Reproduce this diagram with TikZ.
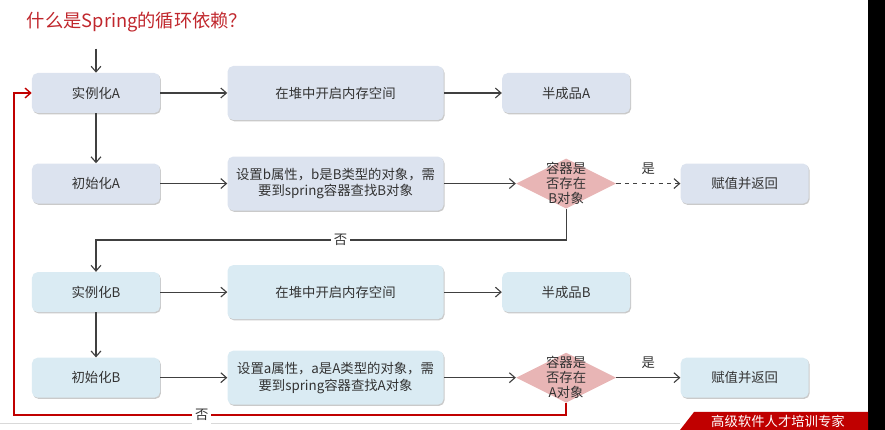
\documentclass[tikz,border=0pt]{standalone}
\usepackage{fontspec}
\setmainfont{Noto Sans CJK SC}
\usetikzlibrary{arrows,arrows.meta,positioning,shapes.geometric,shadows}

\definecolor{titlered}{HTML}{C0272D}
\definecolor{boxA}{HTML}{DCE3EF}
\definecolor{boxB}{HTML}{DAEBF3}
\definecolor{askfill}{HTML}{E8B5B5}
\definecolor{linegray}{HTML}{404040}
\definecolor{backred}{HTML}{C00000}

\begin{document}
\begin{tikzpicture}[font=\fontsize{9.5pt}{12pt}\selectfont, text=black!80,
  >={Straight Barb[length=4pt, width=7pt]},
  unit/.style={rectangle, rounded corners=4pt, draw=none, text centered,
    drop shadow={shadow xshift=0.7pt, shadow yshift=-0.9pt, opacity=0.35, fill=black!60}},
  smallunit/.style={unit, minimum width=3.2cm, minimum height=1cm},
  bigunit/.style={unit, minimum width=5.4cm, minimum height=1.35cm, align=center},
  decision/.style={diamond, fill=askfill, inner sep=0pt, minimum width=2.5cm, minimum height=1.25cm},
  asktext/.style={align=center, font=\fontsize{9.5pt}{10.6pt}\selectfont},
  flow/.style={->, draw=linegray, line width=0.8pt},
  back/.style={->, draw=backred, line width=1pt},
  tag/.style={fill=white, inner sep=2pt}]

\useasboundingbox (0,0) rectangle (22.125,-10.75);

%Frame
\fill[black] (21.7,0) rectangle (22.125,-10.75);
\draw[black!15, line width=0.6pt] (0,-10.58) -- (17,-10.58);
\fill[backred] (17,-10.75) -- (17.35,-10.3) -- (21.7,-10.3) -- (21.7,-10.75) -- cycle;
\node[text=white, font=\fontsize{9.5pt}{10pt}\selectfont] (brand) at (19.45,-10.53) {高级软件人才培训专家};

%Title
\node[anchor=west, text=titlered, font=\fontsize{13pt}{15pt}\selectfont] (title) at (0.55,-0.55) {什么是Spring的循环依赖？};

%Nodes
\node[smallunit, fill=boxA] (instA) at (2.4,-2.325) {实例化A};
\node[bigunit, fill=boxA]   (heapA) [right=1.675cm of instA] {在堆中开启内存空间};
\node[smallunit, fill=boxA] (halfA) [right=1.45cm of heapA]  {半成品A};
\node[smallunit, fill=boxA] (initA) [below=1.25cm of instA]  {初始化A};
\node[bigunit, fill=boxA]   (setB)  at (initA -| heapA) {设置b属性，b是B类型的对象，需\\要到spring容器查找B对象};
\node[decision]             (askB)  at (initA -| halfA) {};
\node[asktext]              (askBt) at (askB) {容器是\\否存在\\B对象};
\node[smallunit, fill=boxA] (retA)  [right=1.6cm of askB]    {赋值并返回};

\node[smallunit, fill=boxB] (instB) [below=1.7cm of initA]   {实例化B};
\node[bigunit, fill=boxB]   (heapB) [right=1.675cm of instB] {在堆中开启内存空间};
\node[smallunit, fill=boxB] (halfB) [right=1.45cm of heapB]  {半成品B};
\node[smallunit, fill=boxB] (initB) [below=1.125cm of instB] {初始化B};
\node[bigunit, fill=boxB]   (setA)  at (initB -| heapB) {设置a属性，a是A类型的对象，需\\要到spring容器查找A对象};
\node[decision]             (askA)  at (initB -| halfB) {};
\node[asktext]              (askAt) at (askA) {容器是\\否存在\\A对象};
\node[smallunit, fill=boxB] (retB)  [right=1.6cm of askA]    {赋值并返回};

\coordinate[above=0.6cm of instA] (start);
\coordinate (turnB) at (2.4,-6.0);
\coordinate (loopL) at (0.35,-10.375);

%Lines
\draw[flow] (start) -- (instA.north);
\draw[flow] (instA.east) -- (heapA.west);
\draw[flow] (heapA.east) -- (halfA.west);
\draw[flow] (instA.south) -- (initA.north);
\draw[flow] (initA.east) -- (setB.west);
\draw[flow] (setB.east) -- (askB.west);
\draw[flow, dashed] (askB.east) -- node[above=3pt] (yesB) {是} (retA.west);
\draw[flow] (askB.south) |- node[tag, pos=0.74] (noB) {否} (turnB) -- (instB.north);

\draw[flow] (instB.east) -- (heapB.west);
\draw[flow] (heapB.east) -- (halfB.west);
\draw[flow] (instB.south) -- (initB.north);
\draw[flow] (initB.east) -- (setA.west);
\draw[flow] (setA.east) -- (askA.west);
\draw[flow] (askA.east) -- node[above=3pt] (yesA) {是} (retB.west);
\draw[back] (askA.south) |- node[tag, pos=0.83] (noA) {否} (loopL) |- (instA.west);

\end{tikzpicture}
\end{document}
